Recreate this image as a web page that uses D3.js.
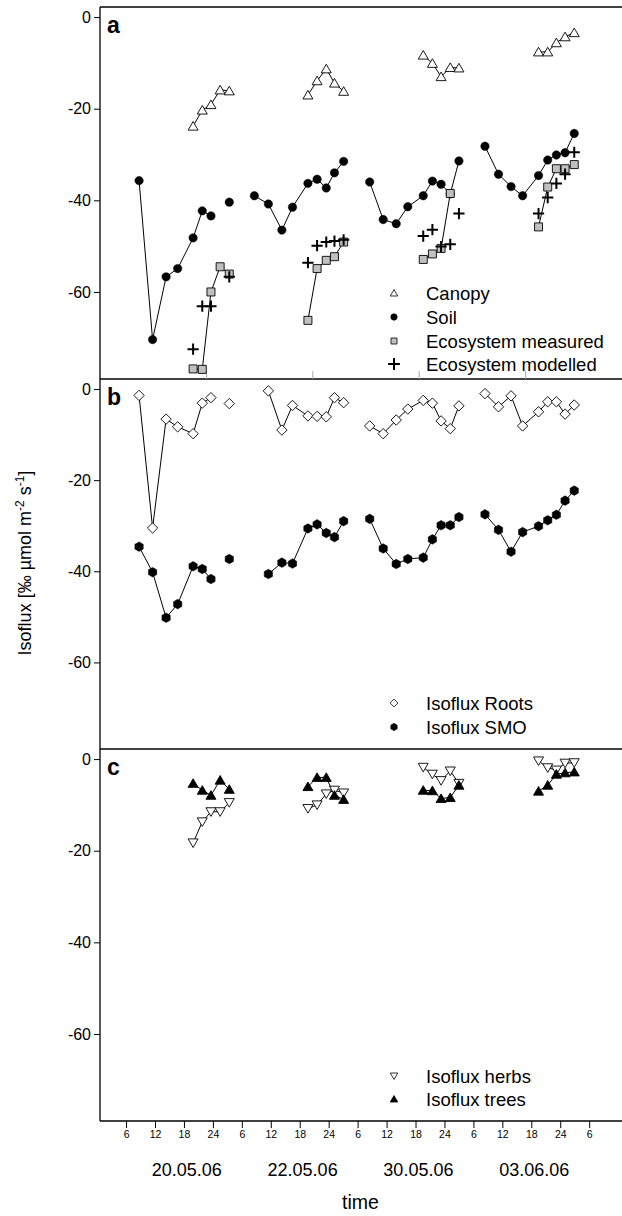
<!DOCTYPE html>
<html><head><meta charset="utf-8">
<script src="https://cdn.jsdelivr.net/npm/d3@7"></script>
<style>body{margin:0;background:#fff}svg{display:block}</style>
</head><body>
<svg id="chart" width="622" height="1216"></svg>
<script>
// ---- data ----
// measurement times in hours along the continuous time axis (4 days x 9 slots)
const slotHours = [
  8.7, 11.5, 14.3, 16.7, 19.9, 21.8, 23.6, 25.5, 27.4,
  32.6, 35.5, 38.3, 40.5, 43.7, 45.6, 47.5, 49.2, 51.1,
  56.5, 59.3, 62.0, 64.4, 67.6, 69.5, 71.3, 73.2, 75.0,
  80.4, 83.2, 85.8, 88.2, 91.5, 93.4, 95.2, 97.0, 98.9];
const slotDay = [0,0,0,0,0,0,0,0,0, 1,1,1,1,1,1,1,1,1, 2,2,2,2,2,2,2,2,2, 3,3,3,3,3,3,3,3,3];
const dateLabels = ["20.05.06", "22.05.06", "30.05.06", "03.06.06"];
const hourTicks = [6,12,18,24,30,36,42,48,54,60,66,72,78,84,90,96,102];
const yTicks = [0, -20, -40, -60];

// panel a
const canopy = [
  null,null,null,null,-23.8,-20.3,-19.1,-15.9,-16.1,
  null,null,null,null,-17.0,-13.9,-11.3,-14.4,-16.2,
  null,null,null,null,-8.3,-10.1,-13.0,-11.0,-11.1,
  null,null,null,null,-7.6,-7.6,-5.6,-4.3,-3.4];
const soil = [
  -35.7,-70.4,-56.7,-54.9,-48.2,-42.3,-43.4,null,-40.4,
  -39.0,-40.8,-46.5,-41.5,-36.3,-35.4,-37.3,-34.0,-31.5,
  -36.0,-44.2,-45.1,-41.4,-39.0,-35.8,-36.5,-38.6,-31.4,
  -28.2,-34.3,-37.0,-39.0,-34.6,-31.2,-30.1,-29.6,-25.4];
const ecoMeasured = [
  null,null,null,null,-76.8,-76.9,-60.0,-54.5,-56.1,
  null,null,null,null,-66.2,-54.9,-53.1,-52.3,-49.1,
  null,null,null,null,-52.9,-51.7,-50.5,-38.5,null,
  null,null,null,null,-45.8,-37.1,-33.1,-33.1,-32.2];
const ecoModelled = [
  null,null,null,null,-72.5,-63.1,-63.1,null,-56.7,
  null,null,null,null,-53.6,-49.9,-49.1,-48.9,-48.6,
  null,null,null,null,-47.8,-46.4,-50.1,-49.6,-42.9,
  null,null,null,null,-42.9,-39.4,-36.3,-34.3,-29.5];
// panel b
const roots = [
  -1.4,-30.5,-6.6,-8.3,-9.8,-3.1,-1.9,null,-3.2,
  null,-0.4,-9.0,-3.6,-5.9,-6.0,-6.1,-1.9,-3.0,
  -8.1,-9.8,-6.8,-4.4,-2.5,-3.1,-7.0,-8.7,-3.7,
  -1.0,-3.9,-1.5,-8.1,-5.0,-2.8,-2.8,-5.5,-3.5];
const smo = [
  -34.6,-40.2,-50.2,-47.2,-38.9,-39.5,-41.7,null,-37.3,
  null,-40.6,-38.1,-38.3,-30.6,-29.7,-31.6,-32.5,-29.0,
  -28.5,-35.0,-38.4,-37.3,-37.0,-33.0,-29.9,-29.9,-28.1,
  -27.5,-30.9,-35.7,-31.4,-30.1,-28.8,-27.6,-24.5,-22.3];
// panel c
const herbs = [
  null,null,null,null,-18.3,-13.7,-11.5,-11.5,-9.5,
  null,null,null,null,-10.8,-10.0,-7.6,-6.8,-7.4,
  null,null,null,null,-1.8,-3.3,-4.7,-2.6,-5.3,
  null,null,null,null,-0.4,-1.9,-2.4,-0.9,-0.8];
const trees = [
  null,null,null,null,-5.3,-6.8,-7.9,-4.6,-6.6,
  null,null,null,null,-6.0,-4.0,-4.0,-7.9,-8.8,
  null,null,null,null,-6.8,-6.9,-8.6,-8.4,-5.7,
  null,null,null,null,-7.0,-5.7,-3.3,-3.0,-2.8];

// ---- layout ----
const FONT = "'Liberation Sans', Arial, Helvetica, sans-serif";
const svg = d3.select("#chart");
const left = 100, right = 622;
const x = d3.scaleLinear().domain([0.6, 108.8]).range([left, right]);
const panelBounds = [[7, 379], [379, 749], [749, 1121]];
const yDomain = [-79, 2.2];
const ys = panelBounds.map(([t, b]) => d3.scaleLinear().domain(yDomain).range([b, t]));

// marker shapes
function shape(type, k) {
  k = k || 1;
  switch (type) {
    case "triUp": { const w = 5*k, h1 = 4.6*k, h2 = 4*k; return `M0,${-h1}L${w},${h2}L${-w},${h2}Z`; }
    case "triDown": { const w = 5*k, h1 = 4.6*k, h2 = 4*k; return `M0,${h1}L${w},${-h2}L${-w},${-h2}Z`; }
    case "diamond": { const r = 5.2*k; return `M0,${-r}L${r},0L0,${r}L${-r},0Z`; }
    case "square": { const s = 4*k; return `M${-s},${-s}H${s}V${s}H${-s}Z`; }
    case "circle": { const r = 4.2*k; return `M${r},0A${r},${r} 0 1,1 ${-r},0A${r},${r} 0 1,1 ${r},0Z`; }
    case "hex": { const r = 4.8*k; let p = ""; for (let i = 0; i < 6; i++) { const a = Math.PI/3*i - Math.PI/2; p += (i ? "L" : "M") + (r*Math.cos(a)).toFixed(2) + "," + (r*Math.sin(a)).toFixed(2); } return p + "Z"; }
    case "plus": { const s = 5.6*k; return `M${-s},0H${s}M0,${-s}V${s}`; }
  }
}
const styles = {
  triUp: {fill: "#fff", stroke: "#000", sw: 0.9},
  triUpFilled: {fill: "#000", stroke: "#000", sw: 0.9},
  triDown: {fill: "#fff", stroke: "#000", sw: 0.9},
  diamond: {fill: "#fff", stroke: "#000", sw: 0.9},
  square: {fill: "#c0c0c0", stroke: "#000", sw: 0.9},
  circle: {fill: "#000", stroke: "#000", sw: 0.5},
  hex: {fill: "#000", stroke: "#000", sw: 0.5},
  plus: {fill: "none", stroke: "#000", sw: 2}
};
const series = [
  {panel: 0, name: "Canopy", values: canopy, marker: "triUp", style: "triUp", line: true},
  {panel: 0, name: "Soil", values: soil, marker: "circle", style: "circle", line: true},
  {panel: 0, name: "Ecosystem measured", values: ecoMeasured, marker: "square", style: "square", line: true},
  {panel: 0, name: "Ecosystem modelled", values: ecoModelled, marker: "plus", style: "plus", line: false},
  {panel: 1, name: "Isoflux Roots", values: roots, marker: "diamond", style: "diamond", line: true},
  {panel: 1, name: "Isoflux SMO", values: smo, marker: "hex", style: "hex", line: true},
  {panel: 2, name: "Isoflux herbs", values: herbs, marker: "triDown", style: "triDown", line: true},
  {panel: 2, name: "Isoflux trees", values: trees, marker: "triUp", style: "triUpFilled", line: true}
];

// panel border lines
panelBounds.forEach(([t, b], i) => {
  if (i === 0) svg.append("line").attr("x1", left).attr("x2", right).attr("y1", t).attr("y2", t).attr("stroke", "#000").attr("stroke-width", 1.3);
  svg.append("line").attr("x1", left).attr("x2", right).attr("y1", b).attr("y2", b).attr("stroke", "#000").attr("stroke-width", 1.3);
});
// faint ticks on the lower edge of panel a
const xa = d3.scaleLinear().domain([0, 5]).range([left, 632]);
svg.append("g").selectAll("line").data([1, 2, 3, 4]).join("line")
  .attr("x1", d => xa(d)).attr("x2", d => xa(d)).attr("y1", panelBounds[0][1]).attr("y2", panelBounds[0][1] - 8)
  .attr("stroke", "#aaa").attr("stroke-width", 1);

// y axes
ys.forEach((y, i) => {
  const g = svg.append("g").attr("transform", `translate(${left},0)`)
    .call(d3.axisLeft(y).tickValues(yTicks).tickSize(6).tickPadding(3).tickFormat(d => String(d)));
  g.select(".domain").remove();
  g.selectAll("text").attr("font-family", FONT).attr("font-size", 16).attr("fill", "#000");
  g.selectAll("line").attr("stroke", "#000");
});
svg.append("line").attr("x1", left).attr("x2", left).attr("y1", 7).attr("y2", 1121).attr("stroke", "#000").attr("stroke-width", 1.3);

// x axis
const gx = svg.append("g").attr("transform", `translate(0,${panelBounds[2][1]})`)
  .call(d3.axisBottom(x).tickValues(hourTicks).tickSize(7).tickPadding(3)
    .tickFormat(d => { const h = d % 24; return h === 0 ? "24" : String(h); }));
gx.select(".domain").remove();
gx.selectAll("text").attr("font-family", FONT).attr("font-size", 10.5).attr("fill", "#000");
gx.selectAll("line").attr("stroke", "#000");

svg.append("g").selectAll("text").data(dateLabels).join("text")
  .attr("x", (d, i) => x(18.6 + 24 * i)).attr("y", 1176)
  .attr("text-anchor", "middle").attr("font-family", FONT).attr("font-size", 18).text(d => d);
svg.append("text").attr("x", x(54.6)).attr("y", 1209).attr("text-anchor", "middle")
  .attr("font-family", FONT).attr("font-size", 19.5).text("time");

// y title
const yt = svg.append("text").attr("transform", "translate(31,563) rotate(-90)")
  .attr("text-anchor", "middle").attr("font-family", FONT).attr("font-size", 18);
yt.append("tspan").text("Isoflux [\u2030 \u00b5mol m");
yt.append("tspan").attr("font-size", 12).attr("dy", -7).text("-2");
yt.append("tspan").attr("dy", 7).text(" s");
yt.append("tspan").attr("font-size", 12).attr("dy", -7).text("-1");
yt.append("tspan").attr("dy", 7).text("]");

// panel letters
["a", "b", "c"].forEach((l, i) => {
  svg.append("text").attr("x", 107).attr("y", panelBounds[i][0] + 26)
    .attr("font-family", FONT).attr("font-weight", "bold").attr("font-size", 23).text(l);
});

// data
series.forEach(s => {
  const y = ys[s.panel];
  const pts = s.values.map((v, i) => ({t: slotHours[i], v, day: slotDay[i]}));
  if (s.line) {
    const line = d3.line().defined(d => d.v !== null).x(d => x(d.t)).y(d => y(d.v));
    d3.range(4).forEach(dd => {
      svg.append("path").attr("d", line(pts.filter(p => p.day === dd)))
        .attr("fill", "none").attr("stroke", "#000").attr("stroke-width", 1);
    });
  }
  s.pts = pts;
});
series.forEach(s => {
  const y = ys[s.panel];
  const st = styles[s.style];
  svg.append("g").selectAll("path").data(s.pts.filter(p => p.v !== null)).join("path")
    .attr("transform", d => `translate(${x(d.t)},${y(d.v)})`)
    .attr("d", shape(s.marker))
    .attr("fill", st.fill).attr("stroke", st.stroke).attr("stroke-width", st.sw);
});

// legends
const legendRows = [[293, 317, 341, 364], [703, 727], [1076, 1099]];
[0, 1, 2].forEach(p => {
  const items = series.filter(s => s.panel === p);
  items.forEach((s, j) => {
    const cy = legendRows[p][j];
    const st = styles[s.style];
    svg.append("path").attr("transform", `translate(394,${cy})`).attr("d", shape(s.marker, s.marker === "plus" ? 1.05 : 0.75))
      .attr("fill", st.fill).attr("stroke", st.stroke).attr("stroke-width", s.marker === "plus" ? 2 : 0.8);
    svg.append("text").attr("x", 426).attr("y", cy + 6.5).attr("font-family", FONT).attr("font-size", 18.5).text(s.name);
  });
});
</script>
</body></html>
